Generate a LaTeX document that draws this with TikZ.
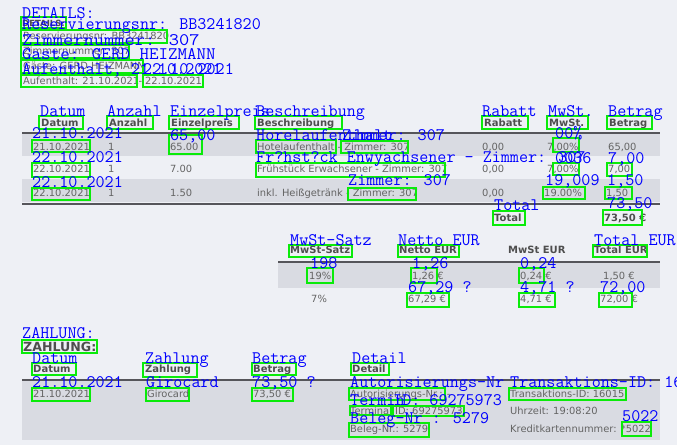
\documentclass[tikz,border=0pt]{standalone}
\usepackage{fontspec}
\newfontfamily\scanfont{DejaVu Sans}
\definecolor{paper}{RGB}{238,240,245}
\definecolor{band}{RGB}{217,219,226}
\definecolor{rulegrey}{RGB}{85,85,90}
\definecolor{ink}{RGB}{100,100,100}
\definecolor{inkdark}{RGB}{78,78,78}
\definecolor{hitgreen}{RGB}{10,235,10}
\definecolor{ocrblue}{RGB}{0,0,255}
\begin{document}
\begin{tikzpicture}[x=1pt,y=-1pt,
	ocr/.style={anchor=base west,inner sep=0pt,text=ocrblue,font=\fontsize{17.6}{18}\selectfont\ttfamily},
	scan/.style={anchor=base west,inner sep=0pt,text=ink,font=\scanfont\fontsize{9.9}{11}\selectfont},
	scanhead/.style={anchor=base west,inner sep=0pt,text=inkdark,font=\scanfont\bfseries\fontsize{10}{11}\selectfont},
	hit/.style={draw=hitgreen,line width=1.3pt},
	tablerule/.style={draw=rulegrey,line width=2.2pt}]
	\useasboundingbox (0,0) rectangle (677,445);
	\clip (0,0) rectangle (677,445);
	\fill[paper] (0,0) rectangle (677,445);

	\fill[band] (22,134) rectangle (660,156);
	\fill[band] (22,179) rectangle (660,202);
	\draw[tablerule] (22,133) -- (660,133);
	\draw[tablerule] (22,204) -- (660,204);
	\fill[band] (278,263) rectangle (660,288);
	\draw[tablerule] (278,262) -- (660,262);
	\fill[band] (22,381) rectangle (660,440);
	\draw[tablerule] (22,380) -- (660,380);

	\node[scanhead,font=\scanfont\bfseries\fontsize{8.5}{10}\selectfont] (sDetails) at (22,26) {DETAILS:};
	\node[scan] (sResNr) at (23,39) {Reservierungsnr: BB3241820};
	\node[scan] (sZimmer) at (23,54) {Zimmernummer: 307};
	\node[scan] (sGaeste) at (23,69) {Gäste: GERD HEIZMANN};
	\node[scan] (sAnreise) at (23,84) {Aufenthalt: 21.10.2021};
	\node[scan] (sBis) at (138.5,84) {-};
	\node[scan] (sAbreise) at (145,84) {22.10.2021};

	\node[scanhead] (hDatum) at (41,126) {Datum};
	\node[scanhead] (hAnzahl) at (109,126) {Anzahl};
	\node[scanhead] (hEinzel) at (171,126) {Einzelpreis};
	\node[scanhead] (hBeschr) at (257,126) {Beschreibung};
	\node[scanhead] (hRabatt) at (484,126) {Rabatt};
	\node[scanhead] (hMwSt) at (549,126) {MwSt.};
	\node[scanhead] (hBetrag) at (609,126) {Betrag};

	\node[scan] (rOneDatum) at (33,150) {21.10.2021};
	\node[scan] (rOneAnzahl) at (108,150) {1};
	\node[scan] (rOnePreis) at (170,150) {65.00};
	\node[scan] (rOneText) at (257,150) {Hotelaufenthalt - Zimmer: 307};
	\node[scan] (rOneRabatt) at (482,150) {0,00};
	\node[scan] (rOneMwSt) at (547,150) {7,00\%};
	\node[scan] (rOneBetrag) at (608,150) {65,00};

	\node[scan] (rTwoDatum) at (33,172) {22.10.2021};
	\node[scan] (rTwoAnzahl) at (108,172) {1};
	\node[scan] (rTwoPreis) at (170,172) {7.00};
	\node[scan] (rTwoText) at (257,172) {Frühstück Erwachsener - Zimmer: 307};
	\node[scan] (rTwoRabatt) at (482,172) {0,00};
	\node[scan] (rTwoMwSt) at (547,172) {7,00\%};
	\node[scan] (rTwoBetrag) at (608,172) {7,00};

	\node[scan] (rThreeDatum) at (33,196) {22.10.2021};
	\node[scan] (rThreeAnzahl) at (108,196) {1};
	\node[scan] (rThreePreis) at (170,196) {1.50};
	\node[scan] (rThreeText) at (257,196) {inkl. Heißgetränk - Zimmer: 307};
	\node[scan] (rThreeRabatt) at (482,196) {0,00};
	\node[scan] (rThreeMwSt) at (544,196) {19.00\%};
	\node[scan] (rThreeBetrag) at (606,196) {1,50};

	\node[scanhead] (sTotal) at (494,221) {Total};
	\node[scanhead] (sTotalSum) at (604,221) {73,50 €};

	\node[scanhead] (hSatz) at (290,253) {MwSt-Satz};
	\node[scanhead] (hNetto) at (399,253) {Netto EUR};
	\node[scanhead] (hSteuer) at (508,253) {MwSt EUR};
	\node[scanhead] (hBrutto) at (594,253) {Total EUR};
	\node[scan] (mOneSatz) at (309,279) {19\%};
	\node[scan] (mOneNetto) at (412,279) {1,26 €};
	\node[scan] (mOneSteuer) at (520,279) {0,24 €};
	\node[scan] (mOneBrutto) at (603,279) {1,50 €};
	\node[scan] (mTwoSatz) at (311,302) {7\%};
	\node[scan] (mTwoNetto) at (408,302) {67,29 €};
	\node[scan] (mTwoSteuer) at (520,302) {4,71 €};
	\node[scan] (mTwoBrutto) at (600,302) {72,00 €};

	\node[scanhead,font=\scanfont\bfseries\fontsize{12.6}{14}\selectfont] (sZahlung) at (23,351) {ZAHLUNG:};
	\node[scanhead] (zDatum) at (33,372) {Datum};
	\node[scanhead] (zZahlung) at (145,372) {Zahlung};
	\node[scanhead] (zBetrag) at (253,372) {Betrag};
	\node[scanhead] (zDetail) at (352,372) {Detail};
	\node[scan] (pDatum) at (33,397) {21.10.2021};
	\node[scan] (pArt) at (147,397) {Girocard};
	\node[scan] (pBetrag) at (253,397) {73,50 €};
	\node[scan] (pAutor) at (350,397) {Autorisierungs-Nr.: -};
	\node[scan] (pTrans) at (510,397) {Transaktions-ID: 16015};
	\node[scan] (pTerminal) at (350,414) {Terminal ID: 69275973};
	\node[scan] (pUhrzeit) at (510,414) {Uhrzeit: 19:08:20};
	\node[scan] (pBeleg) at (350,432) {Beleg-Nr.: 5279};
	\node[scan] (pKarte) at (510,432) {Kreditkartennummer: *5022};

	\draw[hit] (21,17) rectangle (66,28);
	\draw[hit] (21,30) rectangle (167,43);
	\draw[hit] (21,45) rectangle (129,58);
	\draw[hit] (21,60) rectangle (143,73);
	\draw[hit] (21,75) rectangle (137,87);
	\draw[hit] (143,75) rectangle (203,87);

	\draw[hit] (39,116) rectangle (83,129);
	\draw[hit] (107,116) rectangle (153,129);
	\draw[hit] (169,116) rectangle (239,129);
	\draw[hit] (255,116) rectangle (342,129);
	\draw[hit] (482,116) rectangle (528,129);
	\draw[hit] (547,116) rectangle (588,129);
	\draw[hit] (607,116) rectangle (652,129);
	\draw[hit] (32,140) rectangle (90,152);
	\draw[hit] (169,135) rectangle (202,154);
	\draw[hit] (256,140) rectangle (336,153);
	\draw[hit] (341,141) rectangle (408,153);
	\draw[hit] (553,138) rectangle (579,152);
	\draw[hit] (32,163) rectangle (90,177);
	\draw[hit] (256,163) rectangle (445,177);
	\draw[hit] (553,163) rectangle (579,175);
	\draw[hit] (607,163) rectangle (632,176);
	\draw[hit] (32,188) rectangle (90,200);
	\draw[hit] (348,188) rectangle (416,200);
	\draw[hit] (543,187) rectangle (585,199);
	\draw[hit] (605,187) rectangle (632,199);
	\draw[hit] (493,211) rectangle (525,225);
	\draw[hit] (603,210) rectangle (642,225);

	\draw[hit] (289,245) rectangle (352,257);
	\draw[hit] (398,245) rectangle (459,257);
	\draw[hit] (593,245) rectangle (647,257);
	\draw[hit] (307,268) rectangle (333,283);
	\draw[hit] (411,268) rectangle (437,283);
	\draw[hit] (519,268) rectangle (544,283);
	\draw[hit] (407,293) rectangle (449,307);
	\draw[hit] (519,293) rectangle (555,307);
	\draw[hit] (599,293) rectangle (632,307);

	\draw[hit] (22,340) rectangle (97,353);
	\draw[hit] (32,363) rectangle (76,375);
	\draw[hit] (143,363) rectangle (197,377);
	\draw[hit] (252,363) rectangle (296,375);
	\draw[hit] (351,363) rectangle (389,375);
	\draw[hit] (32,388) rectangle (90,401);
	\draw[hit] (146,388) rectangle (189,401);
	\draw[hit] (252,388) rectangle (293,401);
	\draw[hit] (349,388) rectangle (445,400);
	\draw[hit] (509,388) rectangle (626,400);
	\draw[hit] (350,406) rectangle (391,415);
	\draw[hit] (393,406) rectangle (464,416);
	\draw[hit] (349,423) rectangle (429,437);
	\draw[hit] (622,422) rectangle (651,436);

	\node[ocr] (oDetails) at (22,18) {DETAILS:};
	\node[ocr] (oResNr) at (22,29) {Reservierungsnr: BB3241820};
	\node[ocr] (oZimmer) at (22,45) {\scalebox{1.13}[1]{Zimmernummer: 307}};
	\node[ocr] (oGaeste) at (22,59) {\scalebox{1.05}[1]{Gaste: GERD HEIZMANN}};
	\node[ocr] (oAnreise) at (22,74) {Aufenthalt, 21.10.2021};
	\node[ocr] (oAbreise) at (143,74) {22.10.2021};

	\node[ocr] (oDatum) at (40,116) {Datum};
	\node[ocr] (oAnzahl) at (107,116) {Anzahl};
	\node[ocr] (oEinzel) at (170,116) {Einzelpreis};
	\node[ocr] (oBeschr) at (256,116) {Beschreibung};
	\node[ocr] (oRabatt) at (482,116) {Rabatt};
	\node[ocr] (oMwSt) at (548,116) {MwSt.};
	\node[ocr] (oBetrag) at (608,116) {Betrag};

	\node[ocr] (oOneDatum) at (32,138) {21.10.2021};
	\node[ocr] (oOnePreis) at (170,140) {65,00};
	\node[ocr] (oOneText) at (256,140) {Horelaufenthalt};
	\node[ocr] (oOneZimmer) at (342,140) {Zimmer: 307};
	\node[ocr] (oOneMwSt) at (555,138) {00\%};

	\node[ocr] (oTwoDatum) at (32,162) {22.10.2021};
	\node[ocr] (oTwoText) at (256,162) {Fr?hst?ck Enwyachsener – Zimmer: 307};
	\node[ocr] (oTwoMwSt) at (555,163) {0036};
	\node[ocr] (oTwoBetrag) at (608,163) {7,00};

	\node[ocr] (oThreeDatum) at (32,187) {22.10.2021};
	\node[ocr] (oThreeZimmer) at (348,185) {Zimmer: 307};
	\node[ocr] (oThreeMwSt) at (545,185) {19,009};
	\node[ocr] (oThreeBetrag) at (607,185) {1,50};

	\node[ocr] (oTotal) at (494,210) {Total};
	\node[ocr] (oTotalSum) at (607,208) {73,50};

	\node[ocr] (oSatz) at (290,245) {MwSt–Satz};
	\node[ocr] (oNetto) at (398,245) {Netto EUR};
	\node[ocr] (oBrutto) at (594,245) {Total EUR};
	\node[ocr] (oOneSatz) at (310,268) {198};
	\node[ocr] (oOneNetto) at (412,268) {1,26};
	\node[ocr] (oOneSteuer) at (520,268) {0,24};
	\node[ocr] (oTwoNetto) at (408,292) {67,29 ?};
	\node[ocr] (oTwoSteuer) at (520,292) {4,71 ?};
	\node[ocr] (oTwoBrutto) at (600,292) {72,00};

	\node[ocr] (oZahlung) at (22,338) {ZAHLUNG:};
	\node[ocr] (oZDatum) at (32,363) {Datum};
	\node[ocr] (oZZahlung) at (145,363) {Zahlung};
	\node[ocr] (oZBetrag) at (252,363) {Betrag};
	\node[ocr] (oZDetail) at (352,363) {Detail};
	\node[ocr] (oPDatum) at (32,387) {21.10.2021};
	\node[ocr] (oPArt) at (146,387) {Girocard};
	\node[ocr] (oPBetrag) at (252,387) {73,50 ?};
	\node[ocr] (oPAutor) at (350,387) {Autorisierungs–Nr};
	\node[ocr] (oPTrans) at (510,387) {Transaktions–ID: 16015};
	\node[ocr] (oPTermin) at (350,405) {Termin};
	\node[ocr] (oPTerminal) at (393,405) {ID: 69275973};
	\node[ocr] (oPBeleg) at (350,423) {Beleg–Nr : 5279};
	\node[ocr] (oPKarte) at (622,421) {5022};
\end{tikzpicture}
\end{document}
